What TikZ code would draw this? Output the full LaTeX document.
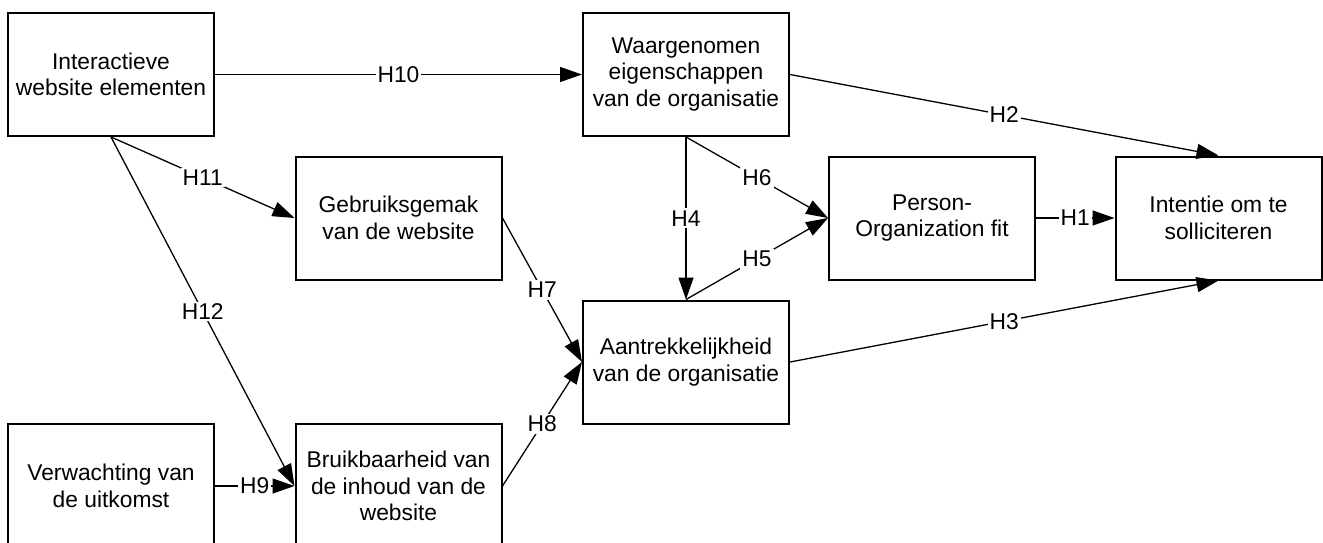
\documentclass[tikz,border=0pt]{standalone}
\usepackage{fontspec}
\setmainfont{Liberation Sans}
\usetikzlibrary{arrows.meta}

\tikzset{
  box/.style={draw,line width=1pt,minimum width=103pt,minimum height=61.5pt,
    align=center,inner sep=0pt,font=\fontsize{11.4pt}{13.3pt}\selectfont},
  arr/.style={line width=0.65pt,-{Triangle[length=11pt,width=7.5pt]}},
  hyp/.style={fill=white,inner sep=1pt,font=\fontsize{11.4pt}{13.3pt}\selectfont}
}

\begin{document}
\begin{tikzpicture}[x=0.5pt,y=-0.5pt]
\useasboundingbox (0,0) rectangle (1323,542);
\node[box] (int) at (111,74.5) {Interactieve\\website elementen};
\node[box] (waar) at (686,74.5) {Waargenomen\\eigenschappen\\van de organisatie};
\node[box] (gebr) at (398.5,218) {Gebruiksgemak\\van de website};
\node[box] (pof) at (932,218) {Person-\\Organization fit};
\node[box] (sol) at (1218.5,218) {Intentie om te\\solliciteren};
\node[box] (aan) at (686,362) {Aantrekkelijkheid\\van de organisatie};
\node[box,minimum height=62pt] (verw) at (111,486) {Verwachting van\\de uitkomst};
\node[box,minimum height=62pt] (bruik) at (398.5,486) {Bruikbaarheid van\\de inhoud van de\\website};
% hypotheses
\foreach \a/\b/\h in {pof.east/sol.west/H1, waar.east/sol.north/H2, aan.east/sol.south/H3,
  waar.south/aan.north/H4, aan.north/pof.west/H5, waar.south/pof.west/H6,
  gebr.east/aan.west/H7, bruik.east/aan.west/H8, verw.east/bruik.west/H9,
  int.east/waar.west/H10, int.south/gebr.west/H11, int.south/bruik.west/H12}
  {\draw[arr] (\a) -- node[hyp] {\h} (\b);}
\end{tikzpicture}
\end{document}
